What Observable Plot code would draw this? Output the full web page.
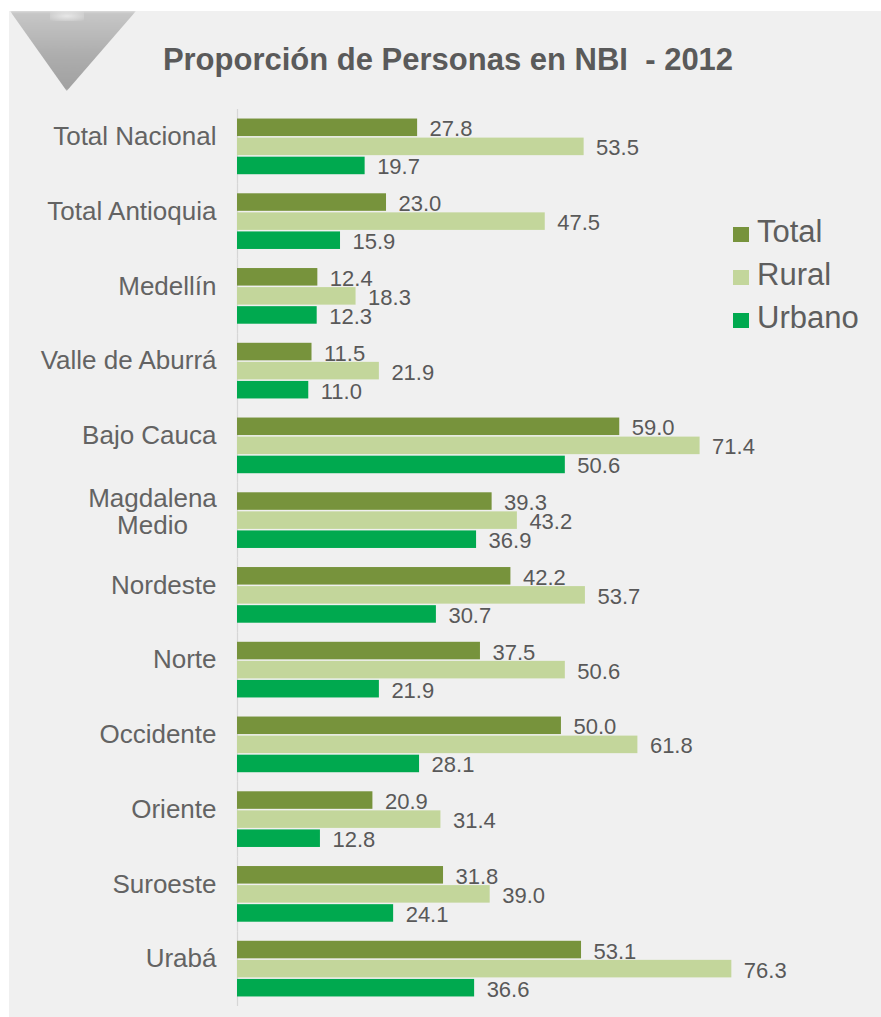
<!DOCTYPE html>
<html>
<head>
<meta charset="utf-8">
<script src="https://cdn.jsdelivr.net/npm/d3@7"></script>
<script src="https://cdn.jsdelivr.net/npm/@observablehq/plot@0.6"></script>
<style>
  html, body { margin: 0; padding: 0; background: #ffffff; overflow: hidden; }
  #page { position: relative; width: 881px; height: 1017px; font-family: "Liberation Sans", Arial, sans-serif; }
  #bg { position: absolute; left: 9px; top: 11px; right: 0; bottom: 0; background: #f0f0f0; }
  #chev { position: absolute; left: 10px; top: 11px; width: 126px; height: 80px;
          clip-path: polygon(0 0, 100% 0, 45% 100%);
          background: linear-gradient(180deg, #c8c8c8 0%, #adadad 55%, #a0a0a0 100%);
          filter: blur(1.5px); }
  #chevhi { position: absolute; left: 50px; top: 11px; width: 34px; height: 10px;
          background: radial-gradient(ellipse at center, rgba(255,255,255,0.6), rgba(255,255,255,0)); }
  #title { position: absolute; left: 15px; width: 866px; top: 44px; text-align: center;
           font-size: 31px; line-height: 31px; font-weight: bold; color: #5a5a5a; white-space: pre; }
  #chart { position: absolute; left: 0; top: 0; }
  #legend { position: absolute; left: 733px; top: 0; }
  .lrow { position: absolute; left: 0; height: 31px; line-height: 31px; font-size: 31px; color: #5e5e5e; white-space: nowrap; }
  .sw { display: inline-block; width: 16px; height: 15px; margin-right: 8px; vertical-align: baseline; }
</style>
</head>
<body>
<div id="page">
  <div id="bg"></div>
  <div id="chev"></div>
  <div id="chevhi"></div>
  <div id="title"></div>
  <div id="chart"></div>
  <div id="legend"></div>
</div>
<script>
const titleText = "Proporción de Personas en NBI  - 2012";
const regions = ["Total Nacional","Total Antioquia","Medellín","Valle de Aburrá","Bajo Cauca","Magdalena Medio","Nordeste","Norte","Occidente","Oriente","Suroeste","Urabá"];
const series = ["Total","Rural","Urbano"];
const totalValues  = [27.8, 23.0, 12.4, 11.5, 59.0, 39.3, 42.2, 37.5, 50.0, 20.9, 31.8, 53.1];
const ruralValues  = [53.5, 47.5, 18.3, 21.9, 71.4, 43.2, 53.7, 50.6, 61.8, 31.4, 39.0, 76.3];
const urbanoValues = [19.7, 15.9, 12.3, 11.0, 50.6, 36.9, 30.7, 21.9, 28.1, 12.8, 24.1, 36.6];
const colors = ["#77933c", "#c3d69b", "#00a94f"];

const seriesValues = [totalValues, ruralValues, urbanoValues];
const data = [];
regions.forEach((r, i) => {
  series.forEach((s, j) => data.push({region: r, series: s, value: seriesValues[j][i]}));
});

document.getElementById("title").textContent = titleText;

const multiLine = "Magdalena Medio";

const chart = Plot.plot({
  width: 881,
  height: 1017,
  marginLeft: 237,
  marginRight: 0,
  marginTop: 109,
  marginBottom: 11,
  style: {background: "transparent", fontFamily: "'Liberation Sans', Arial, sans-serif"},
  x: {domain: [0, 99.4], axis: null},
  y: {domain: series, axis: null, paddingInner: 0.08, paddingOuter: 0.5, round: false},
  fy: {domain: regions, padding: 0, round: false},
  color: {domain: series, range: colors},
  marks: [
    Plot.ruleX([0], {stroke: "#d6d6d6", strokeWidth: 1.2}),
    Plot.barX(data, {fy: "region", y: "series", x: "value", fill: "series"}),
    Plot.text(data, {fy: "region", y: "series", x: "value", text: d => d.value.toFixed(1),
      dx: 12, dy: 1.5, textAnchor: "start", fontSize: 22, fill: "#595959"}),
    Plot.axisFy({anchor: "left", tickSize: 0, tickPadding: 21, fontSize: 26, dy: -10, label: null,
      color: "#636363", tickFormat: d => d === multiLine ? "" : d}),
    Plot.text([multiLine], {fy: d => d, frameAnchor: "left", text: d => d.replace(" ", "\n"),
      dx: -85, dy: -9, textAnchor: "middle", lineHeight: 1.05, fontSize: 26, fill: "#636363"})
  ]
});
document.getElementById("chart").appendChild(chart);

const legend = document.getElementById("legend");
series.forEach((s, i) => {
  const row = document.createElement("div");
  row.className = "lrow";
  row.style.top = (216 + i * 43) + "px";
  const sw = document.createElement("span");
  sw.className = "sw";
  sw.style.background = colors[i];
  row.appendChild(sw);
  row.appendChild(document.createTextNode(s));
  legend.appendChild(row);
});
</script>
</body>
</html>
